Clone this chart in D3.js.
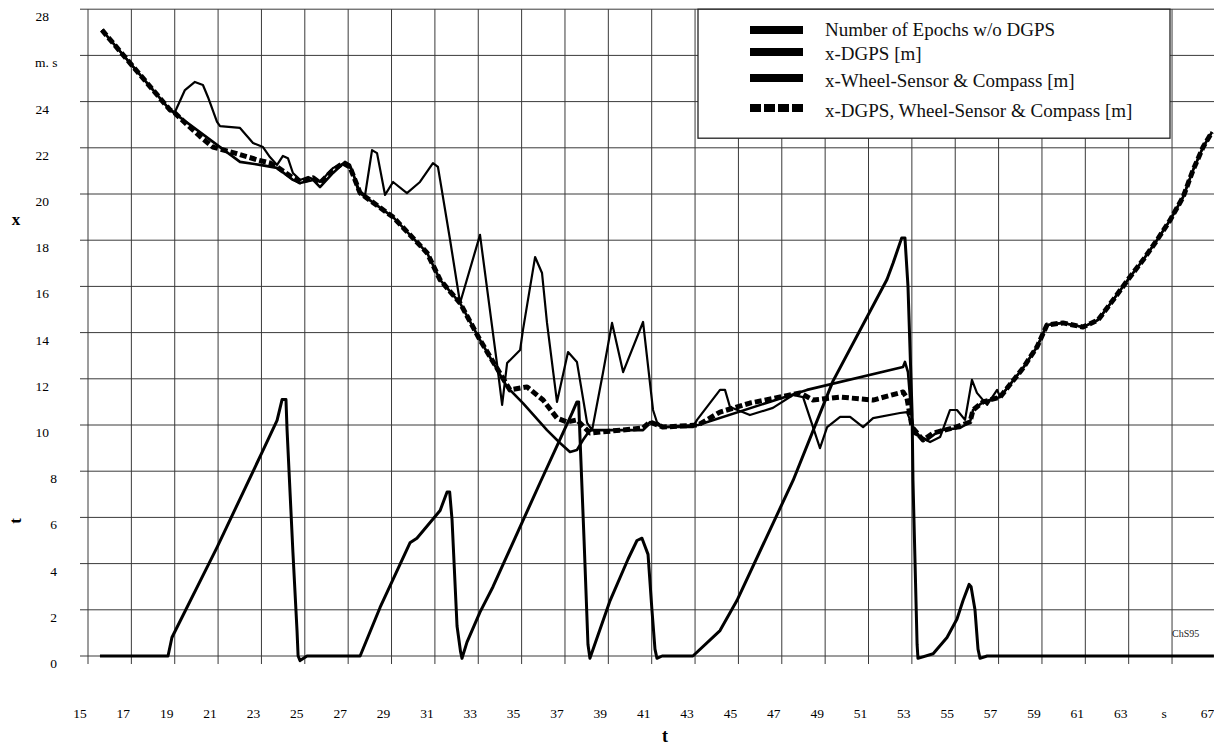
<!DOCTYPE html>
<html>
<head>
<meta charset="utf-8">
<script src="https://cdn.jsdelivr.net/npm/d3@7.9.0/dist/d3.min.js"></script>
<style>
  html, body { margin: 0; padding: 0; background: #fff; }
  svg { display: block; font-family: 'Liberation Serif', 'Times New Roman', serif; }
</style>
</head>
<body>
<svg id="chart" width="1214" height="745"></svg>
<script>
// axis ticks
const xTicks = [15, 17, 19, 21, 23, 25, 27, 29, 31, 33, 35, 37, 39, 41, 43, 45, 47, 49, 51, 53, 55, 57, 59, 61, 63, 65, 67];
const xTickLabels = ['15', '17', '19', '21', '23', '25', '27', '29', '31', '33', '35', '37', '39', '41', '43', '45', '47', '49', '51', '53', '55', '57', '59', '61', '63', 's', '67'];
const yTicks = [0, 2, 4, 6, 8, 10, 12, 14, 16, 18, 20, 22, 24, 26, 28];
const yTickLabels = ['0', '2', '4', '6', '8', '10', '12', '14', '16', '18', '20', '22', '24', 'm. s', '28'];

const legendLabels = [
  'Number of Epochs w/o DGPS',
  'x-DGPS [m]',
  'x-Wheel-Sensor & Compass [m]',
  'x-DGPS, Wheel-Sensor & Compass [m]'
];

// [t, value] pairs
const epochs = [
  [15.92, 0], [19.06, 0], [19.15, 0.4], [19.24, 0.8], [21.32, 4.7], [23.44, 8.9], [24.09, 10.2],
  [24.32, 11.1], [24.50, 11.1], [24.55, 9.8], [24.82, 4.5], [25.01, 1.1], [25.06, 0], [25.15, -0.2],
  [25.47, 0], [27.92, 0], [28.84, 2.1], [30.22, 4.9], [30.54, 5.1], [31.61, 6.3], [31.93, 7.1],
  [32.05, 7.1], [32.16, 5.9], [32.39, 1.3], [32.55, 0.2], [32.62, -0.1], [32.85, 0.6], [33.45, 1.9],
  [34.05, 3.0], [36.22, 7.5], [37.69, 10.5], [37.92, 11.0], [38.0, 11.0], [38.06, 9.5], [38.25, 5.0],
  [38.43, 0.5], [38.52, -0.1], [39.45, 2.4], [40.28, 4.2], [40.69, 5.0], [40.92, 5.1], [41.20, 4.4],
  [41.38, 2.0], [41.52, 0.3], [41.61, -0.1], [41.85, 0], [43.27, 0], [44.52, 1.1], [45.30, 2.4],
  [47.89, 7.6], [49.73, 11.9], [52.22, 16.3], [52.50, 17.0], [52.90, 18.1], [53.05, 18.1],
  [53.19, 16.0], [53.38, 10.5], [53.42, 7.6], [53.61, 0.5], [53.65, -0.1], [54.35, 0.1],
  [54.99, 0.8], [55.45, 1.6], [55.73, 2.4], [56.01, 3.1], [56.10, 3.0], [56.28, 2.0], [56.42, 0.3],
  [56.51, -0.1], [56.84, 0], [67.30, 0]
];

const dgps = [
  [16.01, 27.10], [19.15, 23.64], [19.38, 23.55], [19.84, 24.50], [20.30, 24.85], [20.67, 24.72],
  [20.90, 24.20], [21.32, 23.12], [21.46, 22.94], [22.38, 22.86], [22.98, 22.21], [23.44, 22.03],
  [23.76, 21.60], [24.09, 21.26], [24.36, 21.65], [24.59, 21.55], [24.82, 20.91], [25.15, 20.61],
  [25.52, 20.74], [26.07, 20.52], [26.67, 21.13], [27.22, 21.34], [27.55, 21.04], [27.82, 20.17],
  [28.15, 19.96], [28.47, 21.90], [28.70, 21.77], [29.07, 19.96], [29.44, 20.52], [30.08, 20.04],
  [30.68, 20.52], [31.28, 21.34], [31.51, 21.17], [31.61, 20.61], [32.07, 18.01], [32.53, 15.28],
  [33.45, 18.23], [34.23, 12.68], [34.47, 10.87], [34.70, 12.68], [35.30, 13.25], [35.43, 14.11],
  [35.99, 17.27], [36.31, 16.58], [36.54, 14.42], [37.00, 11.00], [37.51, 13.16], [37.92, 12.73],
  [38.39, 10.09], [38.62, 9.78], [39.12, 12.25], [39.54, 14.42], [40.05, 12.29], [40.97, 14.46],
  [41.43, 10.65], [41.61, 10.13], [41.89, 9.91], [43.27, 9.91], [43.46, 10.22], [44.52, 11.52],
  [44.75, 11.52], [44.98, 10.78], [45.90, 10.43], [46.96, 10.74], [47.89, 11.30], [48.35, 11.21],
  [48.81, 9.91], [49.13, 9.00], [49.46, 9.91], [50.06, 10.35], [50.52, 10.35], [51.12, 9.91],
  [51.58, 10.30], [52.82, 10.52], [53.14, 10.56], [53.42, 9.91], [53.75, 9.48], [54.21, 9.26],
  [54.67, 9.48], [55.13, 10.65], [55.45, 10.65], [55.82, 10.22], [56.14, 11.95], [56.37, 11.39],
  [56.84, 10.87], [57.30, 11.52], [57.44, 11.21],
  [58.50, 12.47], [59.14, 13.38], [59.60, 14.33], [60.34, 14.42], [61.26, 14.24], [61.96, 14.55],
  [62.65, 15.41], [63.43, 16.41], [64.03, 17.14], [64.68, 18.01], [65.28, 18.87], [65.88, 19.87],
  [66.34, 21.04], [66.80, 22.03], [67.21, 22.68]
];

const wheel = [
  [16.01, 27.10], [19.15, 23.64], [21.46, 22.03], [22.38, 21.39], [23.30, 21.26], [24.09, 21.13],
  [24.82, 20.61], [25.15, 20.48], [25.75, 20.61], [26.07, 20.30], [26.67, 20.91], [27.22, 21.39],
  [27.45, 21.26], [27.92, 20.04], [29.44, 19.00], [31.01, 17.45], [31.61, 16.28], [32.53, 15.28],
  [33.45, 13.68], [34.70, 11.65], [35.43, 10.95], [36.54, 9.78], [37.14, 9.22], [37.60, 8.83],
  [37.92, 8.92], [38.20, 9.35], [38.52, 9.78], [40.97, 9.78], [41.29, 10.13], [41.89, 9.91],
  [43.51, 10.00], [48.53, 11.52], [52.96, 12.51], [53.05, 12.73], [53.19, 12.29], [53.42, 9.65],
  [54.07, 9.35], [54.67, 9.78], [55.59, 9.87], [56.05, 10.13], [56.19, 10.65], [56.65, 11.00],
  [57.44, 11.21],
  [58.50, 12.47], [59.14, 13.38], [59.60, 14.33], [60.34, 14.42], [61.26, 14.24], [61.96, 14.55],
  [62.65, 15.41], [63.43, 16.41], [64.03, 17.14], [64.68, 18.01], [65.28, 18.87], [65.88, 19.87],
  [66.34, 21.04], [66.80, 22.03], [67.21, 22.68]
];

const fused = [
  [16.01, 27.10], [19.15, 23.64], [19.38, 23.50], [19.94, 23.00], [20.53, 22.50], [21.13, 22.03],
  [22.15, 21.77], [22.75, 21.60], [23.21, 21.47], [23.76, 21.34], [24.09, 21.17], [24.82, 20.70],
  [25.15, 20.52], [25.75, 20.70], [26.07, 20.48], [26.67, 21.04], [27.13, 21.34], [27.45, 21.17],
  [27.92, 20.04], [29.44, 19.00], [31.01, 17.45], [31.61, 16.28], [32.53, 15.28], [33.45, 13.68],
  [34.83, 11.52], [35.62, 11.65], [36.36, 11.08], [37.00, 10.30], [37.46, 10.13], [37.92, 10.22],
  [38.52, 9.65], [40.97, 9.87], [41.29, 10.13], [41.89, 9.91], [43.51, 10.00], [44.52, 10.56],
  [45.90, 10.95], [47.29, 11.21], [48.21, 11.39], [48.81, 11.08], [50.06, 11.21], [51.58, 11.08],
  [52.96, 11.43], [53.14, 11.17], [53.38, 9.91], [53.88, 9.35], [54.35, 9.65], [55.27, 9.87],
  [56.05, 10.13], [56.19, 10.65], [56.65, 11.00], [57.44, 11.21],
  [58.50, 12.47], [59.14, 13.38], [59.60, 14.33], [60.34, 14.42], [61.26, 14.24], [61.96, 14.55],
  [62.65, 15.41], [63.43, 16.41], [64.03, 17.14], [64.68, 18.01], [65.28, 18.87], [65.88, 19.87],
  [66.34, 21.04], [66.80, 22.03], [67.21, 22.68]
];

const svg = d3.select('#chart');
svg.append('rect').attr('width', 1214).attr('height', 745).attr('fill', '#fff');

const x = d3.scaleLinear().domain([15, 67]).range([80, 1207.4]);
const y = d3.scaleLinear().domain([0, 28]).range([656, 9.2]);
const gridShift = 8; // vertical grid lines sit a bit right of their labels

// grid
const grid = svg.append('g').attr('stroke', '#3a3a3a').attr('stroke-width', 1);
grid.selectAll('line.h')
  .data(yTicks)
  .join('line')
  .attr('class', 'h')
  .attr('x1', 80).attr('x2', 1214)
  .attr('y1', d => y(d)).attr('y2', d => y(d));
grid.selectAll('line.v')
  .data(xTicks)
  .join('line')
  .attr('class', 'v')
  .attr('x1', d => x(d) + gridShift).attr('x2', d => x(d) + gridShift)
  .attr('y1', y(28)).attr('y2', y(0) + 8);

// tick labels
svg.append('g')
  .attr('font-size', 13.5)
  .attr('fill', '#000')
  .selectAll('text')
  .data(yTicks)
  .join('text')
  .attr('x', (d, i) => yTickLabels[i].length > 1 ? 49 : 57)
  .attr('y', d => y(d) + 12)
  .attr('text-anchor', (d, i) => yTickLabels[i] === 'm. s' ? 'start' : 'end')
  .attr('dx', (d, i) => yTickLabels[i] === 'm. s' ? -14 : 0)
  .text((d, i) => yTickLabels[i]);

svg.append('g')
  .attr('font-size', 13.5)
  .attr('fill', '#000')
  .selectAll('text')
  .data(xTicks)
  .join('text')
  .attr('x', d => x(d))
  .attr('y', 718)
  .attr('text-anchor', 'middle')
  .text((d, i) => xTickLabels[i]);

// axis titles
svg.append('text').attr('x', 665).attr('y', 742).attr('text-anchor', 'middle')
  .attr('font-size', 18).attr('font-weight', 'bold').text('t');
svg.append('text').attr('x', 16).attr('y', 225).attr('text-anchor', 'middle')
  .attr('font-size', 17).attr('font-weight', 'bold').text('x');
svg.append('text').attr('transform', 'translate(21,521) rotate(-90)').attr('text-anchor', 'middle')
  .attr('font-size', 17).attr('font-weight', 'bold').text('t');

svg.append('text').attr('x', 1172).attr('y', 637).attr('font-size', 10).attr('fill', '#222').text('ChS95');

// series
const line = d3.line().x(d => x(d[0])).y(d => y(d[1]));
const series = [
  { data: epochs, width: 3, dash: null },
  { data: wheel, width: 2.6, dash: null },
  { data: dgps, width: 2.2, dash: null },
  { data: fused, width: 5, dash: '7,3' }
];
svg.append('g')
  .selectAll('path')
  .data(series)
  .join('path')
  .attr('d', d => line(d.data))
  .attr('fill', 'none')
  .attr('stroke', '#000')
  .attr('stroke-width', d => d.width)
  .attr('stroke-linejoin', 'round')
  .attr('stroke-dasharray', d => d.dash);

// legend
const legend = svg.append('g');
legend.append('rect')
  .attr('x', 698).attr('y', y(28))
  .attr('width', 472).attr('height', 129)
  .attr('fill', '#fff').attr('stroke', '#222').attr('stroke-width', 1.3);
const swatchY = [30, 52, 78, 108];
const labelY = [36, 60, 87, 117];
legend.selectAll('line')
  .data(legendLabels)
  .join('line')
  .attr('x1', 750).attr('x2', 803)
  .attr('y1', (d, i) => swatchY[i]).attr('y2', (d, i) => swatchY[i])
  .attr('stroke', '#000').attr('stroke-width', 8)
  .attr('stroke-dasharray', (d, i) => i === 3 ? '11,3' : null);
legend.selectAll('text')
  .data(legendLabels)
  .join('text')
  .attr('x', 825)
  .attr('y', (d, i) => labelY[i])
  .attr('font-size', 19)
  .attr('fill', '#111')
  .text(d => d);
</script>
</body>
</html>
